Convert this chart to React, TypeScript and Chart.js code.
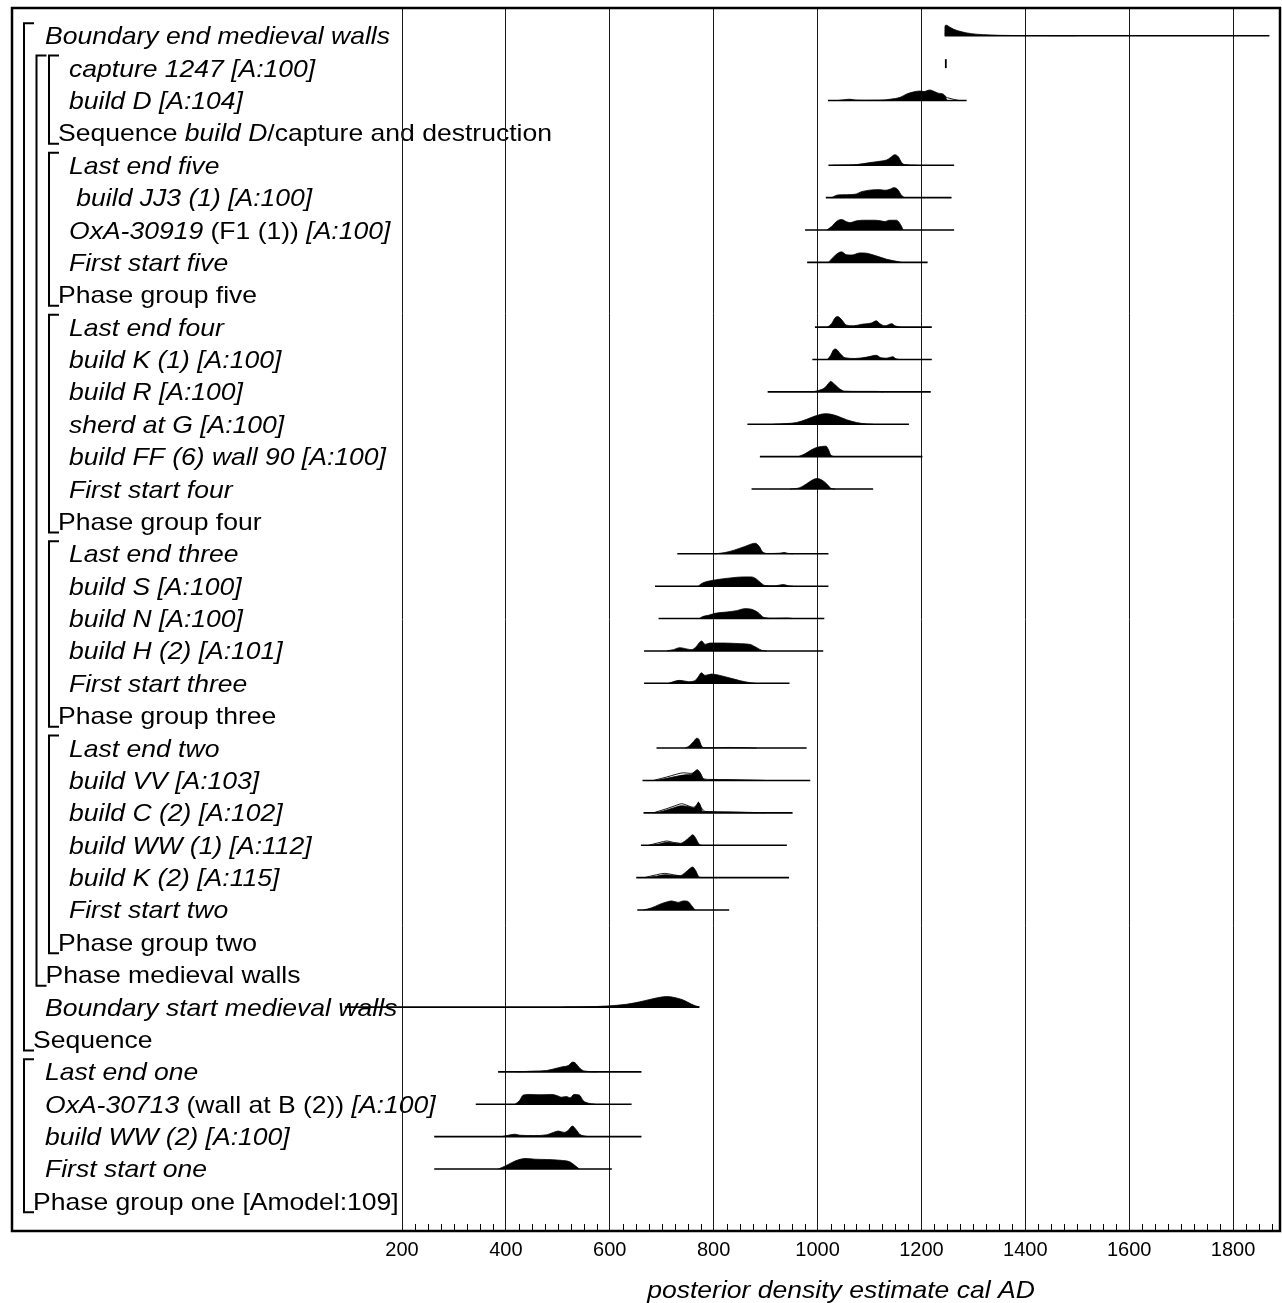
import React, { useEffect, useRef } from "react";
import { Chart, registerables } from "chart.js";

Chart.register(...registerables);

type Seg = [string, boolean];

// ---- labels (text, italic?) per row ----
const rowLabels: Seg[][] = [
  [["Boundary end medieval walls", true]],
  [["capture 1247 [A:100]", true]],
  [["build D [A:104]", true]],
  [["Sequence ", false], ["build D", true], ["/capture and destruction", false]],
  [["Last end five", true]],
  [[" build JJ3 (1) [A:100]", true]],
  [["OxA-30919", true], [" (F1 (1)) ", false], ["[A:100]", true]],
  [["First start five", true]],
  [["Phase group five", false]],
  [["Last end four", true]],
  [["build K (1) [A:100]", true]],
  [["build R [A:100]", true]],
  [["sherd at G [A:100]", true]],
  [["build FF (6) wall 90 [A:100]", true]],
  [["First start four", true]],
  [["Phase group four", false]],
  [["Last end three", true]],
  [["build S [A:100]", true]],
  [["build N [A:100]", true]],
  [["build H (2) [A:101]", true]],
  [["First start three", true]],
  [["Phase group three", false]],
  [["Last end two", true]],
  [["build VV [A:103]", true]],
  [["build C (2) [A:102]", true]],
  [["build WW (1) [A:112]", true]],
  [["build K (2) [A:115]", true]],
  [["First start two", true]],
  [["Phase group two", false]],
  [["Phase medieval walls", false]],
  [["Boundary start medieval walls", true]],
  [["Sequence", false]],
  [["Last end one", true]],
  [["OxA-30713", true], [" (wall at B (2)) ", false], ["[A:100]", true]],
  [["build WW (2) [A:100]", true]],
  [["First start one", true]],
  [["Phase group one [Amodel:109]", false]],
];

// [first row, last row, nesting depth]
const groupSpans: [number, number, number][] = [
  [0, 31, 0],
  [1, 29, 1],
  [1, 3, 2],
  [4, 8, 2],
  [9, 15, 2],
  [16, 21, 2],
  [22, 28, 2],
  [32, 36, 0],
];

const axisTicks = [200, 400, 600, 800, 1000, 1200, 1400, 1600, 1800];
const axisTitle = "posterior density estimate cal AD";

// ---- posterior densities: [year AD, relative density] ----
const pdBoundaryEnd = [[1245, 0], [1245.5, 0.95], [1248, 1.0], [1255, 0.8], [1262, 0.62], [1272, 0.45], [1287, 0.27], [1305, 0.15], [1320, 0.1], [1350, 0.04], [1400, 0.015], [1500, 0]];
const pdCapture = [[1247, 0], [1247, 0.85]];
const pdBuildD = [[1040, 0], [1052, 0.08], [1062, 0.12], [1072, 0.05], [1090, 0.02], [1120, 0.03], [1140, 0.12], [1159, 0.3], [1172, 0.62], [1180, 0.75], [1188, 0.85], [1197, 0.9], [1205, 0.85], [1216, 1.0], [1225, 0.85], [1232, 0.7], [1242, 0.6], [1246, 0.4], [1249, 0]];
const priorBuildD = [[1240, 0.6], [1246, 0.35], [1255, 0.2], [1263, 0.1], [1272, 0]];
const pdLastEndFive = [[1030, 0], [1060, 0.03], [1075, 0.06], [1101, 0.25], [1120, 0.38], [1133, 0.5], [1139.5, 0.7], [1149, 1.0], [1155.6, 0.8], [1162, 0.25], [1168, 0.06], [1191, 0]];
const pdBuildJJ3 = [[1027, 0], [1040, 0.26], [1056, 0.28], [1072, 0.32], [1085, 0.57], [1104, 0.73], [1120, 0.76], [1130, 0.7], [1139.5, 0.8], [1147, 0.95], [1154, 0.8], [1162, 0.2], [1168, 0]];
const pdOxA30919 = [[1018, 0], [1027, 0.33], [1037, 0.83], [1046.5, 1.0], [1055, 0.8], [1062.5, 0.7], [1075, 0.87], [1088, 0.93], [1111, 0.93], [1121.6, 0.87], [1130, 0.8], [1138, 0.93], [1152, 0.93], [1160, 0.5], [1165, 0]];
const pdFirstStartFive = [[1021, 0], [1030.4, 0.5], [1040, 0.9], [1046.5, 1.0], [1055, 0.73], [1066, 0.7], [1082, 0.9], [1094.6, 0.87], [1114, 0.6], [1133, 0.3], [1152, 0.1], [1162, 0]];
const pdLastEndFour = [[1019, 0], [1027, 0.33], [1034, 0.9], [1039, 1.0], [1047, 0.67], [1055, 0.2], [1069, 0.13], [1085, 0.27], [1104, 0.4], [1113, 0.6], [1120, 0.33], [1130, 0.13], [1143, 0.33], [1149, 0.13], [1159, 0]];
const pdBuildK1 = [[1019, 0], [1025.4, 0.4], [1030.5, 0.9], [1035, 1.0], [1043, 0.6], [1053, 0.17], [1072, 0.1], [1095, 0.23], [1113, 0.4], [1122, 0.17], [1133, 0.13], [1145, 0.27], [1151, 0.07], [1158, 0]];
const pdBuildR = [[989, 0], [1001.6, 0.13], [1014, 0.4], [1021, 0.8], [1025, 1.0], [1034, 0.67], [1043, 0.27], [1053, 0.07], [1082, 0.05], [1114, 0.05], [1127, 0]];
const pdSherdG = [[915, 0], [941, 0.07], [960, 0.17], [979, 0.47], [998, 0.83], [1014.5, 1.0], [1024, 0.97], [1037, 0.8], [1056, 0.43], [1075, 0.17], [1095, 0.03], [1107, 0]];
const pdBuildFF = [[963, 0], [976, 0.27], [989, 0.67], [1000, 0.9], [1008, 0.97], [1016.4, 1.0], [1021, 0.67], [1025, 0.2], [1032, 0]];
const pdFirstStartFour = [[947, 0], [966, 0.13], [979, 0.5], [989, 0.83], [998.4, 1.0], [1008, 0.87], [1018, 0.47], [1025, 0.1], [1034, 0]];
const pdLastEndThree = [[803, 0], [822, 0.12], [841, 0.37], [860, 0.69], [873, 0.94], [880, 1.0], [888, 0.69], [894, 0.19], [905, 0.03], [928, 0.06], [935.5, 0.12], [944, 0.03], [953, 0]];
const pdBuildS = [[770.5, 0], [777, 0.25], [787, 0.44], [806, 0.62], [832, 0.78], [857, 0.88], [873, 0.88], [882, 0.69], [891, 0.31], [899, 0.06], [918, 0.03], [934, 0.16], [944, 0.03], [953, 0]];
const pdBuildN = [[772.5, 0], [779, 0.19], [790, 0.31], [803, 0.5], [825, 0.62], [844, 0.75], [860.4, 0.94], [873, 0.88], [886, 0.56], [896, 0.12], [915, 0.03], [941, 0.06], [953, 0]];
const pdBuildH2 = [[710, 0], [722.4, 0.12], [735, 0.31], [748, 0.19], [758, 0.12], [767, 0.44], [774, 0.88], [777, 0.94], [783.4, 0.62], [793, 0.75], [819, 0.75], [851, 0.69], [870, 0.62], [883, 0.31], [892.5, 0.06], [902, 0]];
const pdFirstStartThree = [[713, 0], [735, 0.28], [751, 0.16], [764, 0.25], [770.5, 0.62], [776.3, 1.0], [783.4, 0.75], [796, 0.88], [812, 0.75], [831.5, 0.5], [851, 0.25], [870, 0.06], [880, 0]];
const pdLastEndTwo = [[745, 0], [753, 0.2], [761, 0.6], [767.4, 0.93], [772, 0.8], [776, 0.27], [781.5, 0.03], [831.5, 0.06], [864, 0.03], [883, 0]];
const pdBuildVV = [[690, 0], [709.6, 0.2], [729, 0.4], [745, 0.53], [757.7, 0.6], [764, 0.87], [768.6, 1.0], [773.8, 0.73], [780, 0.13], [790, 0.03], [831.5, 0.03], [857, 0]];
const priorBuildVV = [[684, 0], [710, 0.33], [729, 0.6], [742, 0.73], [755, 0.67], [762, 0.75], [768.6, 1.0], [774, 0.73], [780, 0.2], [790, 0.1], [830, 0.08], [870, 0.04], [900, 0]];
const pdBuildC2 = [[687, 0], [703, 0.17], [722.4, 0.47], [738.5, 0.67], [751, 0.6], [761, 0.47], [767.4, 0.73], [770.6, 1.0], [775, 0.6], [779, 0.13], [793, 0.1], [831.5, 0.06], [863.6, 0.03], [883, 0]];
const priorBuildC2 = [[684, 0], [710, 0.4], [729, 0.73], [738.5, 0.87], [748, 0.73], [761, 0.53], [767, 0.73], [770.6, 1.0], [776, 0.5], [785, 0.12], [830, 0.08], [870, 0.04], [900, 0]];
const pdBuildWW1 = [[680.7, 0], [696.8, 0.13], [709.6, 0.27], [722.4, 0.2], [735, 0.17], [745, 0.4], [754.5, 0.8], [759.7, 1.0], [765.4, 0.67], [772, 0.1], [777, 0]];
const priorBuildWW1 = [[675, 0], [697, 0.27], [710, 0.4], [722, 0.27], [735, 0.17]];
const pdBuildK2 = [[671, 0], [690, 0.13], [706, 0.27], [722.4, 0.2], [735, 0.17], [745, 0.47], [754.5, 0.87], [759, 1.0], [765.4, 0.67], [770.6, 0.13], [775.7, 0]];
const priorBuildK2 = [[667, 0], [690, 0.27], [706, 0.4], [722, 0.27], [735, 0.17]];
const pdFirstStartTwo = [[664.7, 0], [680.7, 0.2], [696.8, 0.55], [709.6, 0.76], [719, 0.86], [732, 0.72], [741.7, 0.86], [749.4, 0.83], [757.7, 0.41], [764, 0]];
const pdBoundaryStart = [[510.6, 0], [555.5, 0.03], [594, 0.1], [632.5, 0.27], [658, 0.5], [677.5, 0.73], [696.7, 0.93], [709.5, 1.0], [725.6, 0.9], [741.6, 0.67], [757.7, 0.27], [770.5, 0.03], [773.7, 0]];
const pdLastEndOne = [[420.8, 0], [453, 0.07], [478.5, 0.13], [491.4, 0.27], [507.4, 0.47], [520.2, 0.6], [528.6, 0.93], [533, 0.87], [542.7, 0.33], [552.3, 0.07], [575, 0]];
const pdOxA30713 = [[417.6, 0], [426, 0.33], [433.6, 0.87], [446.4, 0.93], [465.7, 0.9], [488.2, 0.93], [497.8, 0.83], [507.4, 0.67], [517, 0.73], [523.5, 0.6], [531, 0.93], [541.4, 0.87], [549, 0.33], [558.8, 0.1], [571.6, 0]];
const pdBuildWW2 = [[392, 0], [404.7, 0.13], [417.6, 0.23], [427, 0.13], [453, 0.1], [478.5, 0.17], [491.4, 0.4], [501, 0.53], [512, 0.4], [520.2, 0.6], [528, 1.0], [535, 0.67], [542.7, 0.2], [550.4, 0.07], [558.8, 0]];
const pdFirstStartOne = [[385.5, 0], [398.3, 0.27], [411, 0.6], [424, 0.87], [437, 1.0], [456, 0.93], [478.5, 0.9], [504.2, 0.83], [523.5, 0.67], [533, 0.33], [541.4, 0]];

// ---- ranges drawn under the distributions: [row, from, to] ----
const rangeLines: [number, number, number][] = [
  [0, 1245, 1870], [2, 1020, 1287], [4, 1021, 1263], [5, 1016, 1258], [6, 976, 1263], [7, 980, 1212],
  [9, 995, 1220], [10, 990, 1220], [11, 904, 1218], [12, 865, 1176], [13, 889, 1202], [14, 873, 1107],
  [16, 730, 1021], [17, 687, 1021], [18, 694, 1013], [19, 666, 1011], [20, 666, 946],
  [22, 690, 979], [23, 663, 986], [24, 665, 952], [25, 660, 941], [26, 651, 945], [27, 653, 830],
  [30, 90, 772], [32, 385, 661], [33, 342, 642], [34, 262, 661], [35, 262, 604],
];

const filledRows: [number, number[][]][] = [
  [0, pdBoundaryEnd], [2, pdBuildD], [4, pdLastEndFive], [5, pdBuildJJ3], [6, pdOxA30919], [7, pdFirstStartFive],
  [9, pdLastEndFour], [10, pdBuildK1], [11, pdBuildR], [12, pdSherdG], [13, pdBuildFF], [14, pdFirstStartFour],
  [16, pdLastEndThree], [17, pdBuildS], [18, pdBuildN], [19, pdBuildH2], [20, pdFirstStartThree],
  [22, pdLastEndTwo], [23, pdBuildVV], [24, pdBuildC2], [25, pdBuildWW1], [26, pdBuildK2], [27, pdFirstStartTwo],
  [30, pdBoundaryStart], [32, pdLastEndOne], [33, pdOxA30713], [34, pdBuildWW2], [35, pdFirstStartOne],
];
const outlineRows: [number, number[][]][] = [
  [2, priorBuildD], [23, priorBuildVV], [24, priorBuildC2], [25, priorBuildWW1], [26, priorBuildK2],
];
const spikeRows: [number, number[][]][] = [[1, pdCapture]];

// ---- geometry / style constants ----
const PEAK = 0.325; // height of a density of 1, in row units
const XMIN = -550.9;
const XMAX = 1890.4;
const YMIN = -0.8566;
const YMAX = 36.915;
const FONT = '"Liberation Sans", Arial, Helvetica, sans-serif';
const LABEL_PX = 24;
const SX = 1.105;

function drawSegs(ctx: CanvasRenderingContext2D, segs: Seg[], x: number, y: number) {
  let cx = x;
  for (const [t, it] of segs) {
    ctx.font = `${it ? "italic " : ""}${LABEL_PX}px ${FONT}`;
    ctx.save();
    ctx.translate(cx, y);
    ctx.scale(SX, 1);
    ctx.fillText(t, 0, 0);
    ctx.restore();
    cx += ctx.measureText(t).width * SX;
  }
}

const oxcalPlugin = {
  id: "oxcal",
  beforeDraw(chart: any) {
    const ctx: CanvasRenderingContext2D = chart.ctx;
    const ys = chart.scales.y;
    ctx.save();
    ctx.fillStyle = "#000";
    ctx.textBaseline = "alphabetic";
    ctx.textAlign = "left";
    rowLabels.forEach((segs, r) => {
      const grp = groupSpans.find((g) => g[1] === r);
      let x: number;
      if (grp) {
        x = 33 + 12.5 * grp[2];
      } else {
        let d = 0;
        groupSpans.forEach((g) => {
          if (g[0] <= r && r <= g[1]) d = Math.max(d, g[2]);
        });
        x = 45 + 12 * d;
      }
      drawSegs(ctx, segs, x, ys.getPixelForValue(r) + 8.5);
    });
    ctx.strokeStyle = "#000";
    ctx.lineWidth = 2;
    groupSpans.forEach(([a, b, d]) => {
      const x = 24 + 12.5 * d;
      const top = ys.getPixelForValue(a) - 12.5;
      const bot = ys.getPixelForValue(b) + 11;
      ctx.beginPath();
      ctx.moveTo(x + 10, top);
      ctx.lineTo(x, top);
      ctx.lineTo(x, bot);
      ctx.lineTo(x + 10, bot);
      ctx.stroke();
    });
    ctx.restore();
  },
  afterDraw(chart: any) {
    const ctx: CanvasRenderingContext2D = chart.ctx;
    const a = chart.chartArea;
    const xs = chart.scales.x;
    ctx.save();
    ctx.strokeStyle = "#000";
    ctx.lineWidth = 1;
    for (let v = axisTicks[0] + 25; v < XMAX; v += 25) {
      if (v % 200 === 0) continue;
      const px = Math.round(xs.getPixelForValue(v)) + 0.5;
      ctx.beginPath();
      ctx.moveTo(px, a.bottom);
      ctx.lineTo(px, a.bottom - 7);
      ctx.stroke();
    }
    ctx.lineWidth = 2.5;
    ctx.strokeRect(a.left, a.top, a.right - a.left, a.bottom - a.top);
    ctx.fillStyle = "#000";
    ctx.font = `italic ${LABEL_PX}px ${FONT}`;
    ctx.textBaseline = "middle";
    ctx.textAlign = "center";
    const cx = (xs.getPixelForValue(axisTicks[0]) + a.right) / 2;
    ctx.translate(cx, 1291);
    ctx.scale(SX, 1);
    ctx.fillText(axisTitle, 0, 0);
    ctx.restore();
  },
};

function toPts(row: number, pts: number[][]) {
  return pts.map(([x, h]) => ({ x, y: row - h * PEAK }));
}

export default function App() {
  const ref = useRef<HTMLCanvasElement>(null);
  useEffect(() => {
    const datasets: any[] = [];
    rangeLines.forEach(([row, from, to]) => {
      datasets.push({
        data: [{ x: from, y: row }, { x: to, y: row }],
        borderColor: "#000",
        borderWidth: 1.6,
        pointRadius: 0,
        fill: false,
        tension: 0,
      });
    });
    filledRows.forEach(([row, pts]) => {
      datasets.push({
        data: toPts(row, pts),
        borderColor: "#000",
        backgroundColor: "#000",
        borderWidth: 0.8,
        pointRadius: 0,
        fill: { value: row },
        cubicInterpolationMode: "monotone",
      });
    });
    outlineRows.forEach(([row, pts]) => {
      datasets.push({
        data: toPts(row, pts),
        borderColor: "#000",
        borderWidth: 0.9,
        pointRadius: 0,
        fill: false,
        cubicInterpolationMode: "monotone",
      });
    });
    spikeRows.forEach(([row, pts]) => {
      datasets.push({
        data: toPts(row, pts),
        borderColor: "#000",
        borderWidth: 1.8,
        pointRadius: 0,
        fill: false,
        tension: 0,
      });
    });

    const chart = new Chart(ref.current as HTMLCanvasElement, {
      type: "line",
      data: { datasets },
      plugins: [oxcalPlugin],
      options: {
        responsive: false,
        animation: false,
        devicePixelRatio: 1,
        layout: { padding: { left: 12, top: 8, right: 2, bottom: 34 } },
        plugins: { legend: { display: false }, tooltip: { enabled: false } },
        scales: {
          x: {
            type: "linear",
            min: XMIN,
            max: XMAX,
            afterBuildTicks: (s: any) => {
              s.ticks = axisTicks.map((v) => ({ value: v }));
            },
            grid: { color: "#1a1a1a", lineWidth: 1, drawTicks: false },
            border: { display: false },
            ticks: {
              color: "#000",
              font: { family: FONT, size: 20 },
              padding: 7,
              maxRotation: 0,
              autoSkip: false,
              callback: (v: any) => String(v),
            },
          },
          y: { type: "linear", display: false, reverse: true, min: YMIN, max: YMAX },
        },
      } as any,
    });
    return () => chart.destroy();
  }, []);
  return (
    <div style={{ position: "absolute", left: 0, top: 0, width: 1282, height: 1303, background: "#fff" }}>
      <canvas ref={ref} width={1282} height={1303} style={{ display: "block" }} />
    </div>
  );
}
